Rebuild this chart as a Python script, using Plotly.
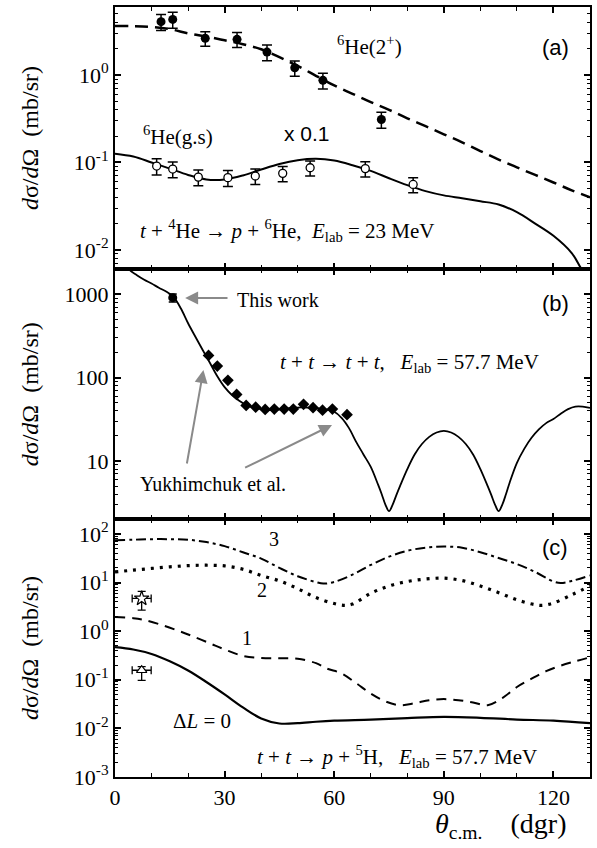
import math
import plotly.graph_objects as go

# ---------------- Panel (a): t + 4He -> p + 6He, E=23 MeV ----------------
theta_2p = [12.6, 15.8, 24.7, 33.4, 41.6, 49.2, 56.9, 72.9]
xs_2p = [4.08, 4.33, 2.63, 2.56, 1.83, 1.21, 0.87, 0.31]
err_2p = [0.85, 0.9, 0.5, 0.5, 0.37, 0.24, 0.18, 0.064]

theta_gs = [11.4, 15.8, 22.8, 30.9, 38.4, 45.9, 53.4, 68.5, 81.6]
xs_gs = [0.091, 0.084, 0.068, 0.067, 0.070, 0.075, 0.087, 0.085, 0.056]
err_gs = [0.019, 0.017, 0.014, 0.014, 0.014, 0.015, 0.017, 0.017, 0.011]

theta_2p_calc = [0, 5, 10, 15, 20, 25, 30, 35, 40, 45, 50, 55, 60, 65, 70, 75, 80,
                 85, 90, 95, 100, 105, 110, 115, 120, 125, 130]
xs_2p_calc = [3.63, 3.62, 3.55, 3.35, 3.0, 2.75, 2.5, 2.25, 1.97, 1.6, 1.27, 0.98, 0.76,
              0.61, 0.49, 0.40, 0.32, 0.26, 0.21, 0.17, 0.135, 0.108, 0.088, 0.072,
              0.059, 0.048, 0.040]

theta_gs_calc = [0, 5, 10, 15, 20, 25, 30, 35, 40, 45, 50, 55, 60, 65, 70, 75, 80, 85,
                 90, 95, 100, 105, 110, 115, 120, 125, 127.5, 130]
xs_gs_calc = [0.126, 0.117, 0.100, 0.085, 0.072, 0.064, 0.064, 0.071, 0.083, 0.096,
              0.106, 0.110, 0.105, 0.093, 0.080, 0.066, 0.055, 0.047, 0.042, 0.039,
              0.036, 0.033, 0.027, 0.020, 0.0145, 0.0092, 0.0062, 0.0042]

# ---------------- Panel (b): t + t -> t + t, E=57.7 MeV ----------------
theta_this = [15.8]
xs_this = [912]
err_this = [100]

theta_yuk = [25.6, 28.0, 30.9, 33.3, 35.9, 38.5, 41.1, 43.6, 46.3, 48.8, 51.6, 54.2,
             56.8, 59.5, 63.5]
xs_yuk = [185, 138, 93, 63, 46.5, 44.3, 41.6, 42, 42, 42, 47.9, 43.7, 40.8, 42, 36]

theta_tt_calc = [2, 3.8, 6, 8, 10, 12, 14, 16, 18, 20, 22, 24, 26, 28, 30, 32, 34, 36,
                 38, 40, 42, 45, 48, 51, 54, 57, 60, 62, 64, 66, 68, 70, 72, 73, 74, 75,
                 76, 77, 78, 80, 82, 84, 86, 88, 90, 92, 94, 96, 98, 100, 102, 103, 104,
                 105, 106, 107, 108, 110, 112, 114, 116, 118, 120, 122, 124, 126, 128, 130]
xs_tt_calc = [3000, 2000, 1700, 1500, 1350, 1200, 1080, 930, 680, 450, 310, 215, 150,
              104, 77, 62, 53, 47, 44, 42, 41, 41.5, 43, 44, 43.5, 42, 39, 33, 25, 17,
              12, 8.5, 5.2, 4.0, 3.0, 2.5, 3.0, 3.9, 5.0, 8, 12, 16, 19.5, 22, 23, 22,
              19.5, 16, 12, 8, 5.0, 3.9, 3.0, 2.5, 3.0, 4.0, 5.5, 9.5, 14, 19, 24, 28.5,
              32, 37, 42, 45, 45, 43.5]

# ---------------- Panel (c): t + t -> p + 5H, E=57.7 MeV ----------------
theta_c = [0, 5, 10, 15, 20, 25, 30, 35, 40, 45, 50, 55, 57, 60, 65, 70, 75, 80, 85,
           90, 95, 100, 105, 110, 115, 120, 122, 125, 130]
xs_L3 = [74, 76, 78, 78, 76, 68, 56, 42, 31, 20, 13.5, 10.2, 9.5, 10.3, 14.5, 23, 34,
         45, 52, 55, 52, 42, 32, 24, 16.5, 10.5, 9.8, 10.8, 14]

theta_c2 = [0, 5, 10, 15, 20, 25, 30, 35, 40, 45, 50, 55, 60, 63, 65, 70, 75, 80, 85,
            90, 95, 100, 105, 110, 115, 117, 120, 125, 130]
xs_L2 = [16.5, 18, 19.5, 21, 22.3, 22.7, 22, 18.8, 14, 10.8, 7.5, 4.9, 3.7, 3.4, 3.6,
         6.0, 8.5, 10.5, 11.8, 12.3, 11, 8.5, 6.2, 4.4, 3.5, 3.4, 3.8, 5.6, 8.5]

theta_c1 = [0, 5, 8, 12, 17, 21, 26, 30, 35, 40, 45, 50, 55, 58, 62, 66, 70, 74, 78,
            82, 86, 90, 94, 98, 102, 106, 110, 114, 118, 122, 126, 130]
xs_L1 = [1.96, 1.85, 1.7, 1.4, 1.04, 0.8, 0.56, 0.42, 0.31, 0.28, 0.276, 0.27, 0.22,
         0.17, 0.135, 0.085, 0.052, 0.036, 0.030, 0.033, 0.038, 0.040, 0.038, 0.034,
         0.030, 0.042, 0.071, 0.105, 0.15, 0.195, 0.24, 0.29]

theta_c0 = [0, 5, 10, 15, 20, 25, 30, 35, 40, 45, 50, 55, 60, 70, 80, 90, 100, 110,
            120, 130]
xs_L0 = [0.47, 0.42, 0.34, 0.24, 0.155, 0.09, 0.05, 0.027, 0.016, 0.0126, 0.0128,
         0.0137, 0.0144, 0.0152, 0.0163, 0.0172, 0.0165, 0.0152, 0.0144, 0.0128]

theta_star = [7.3]
xs_star = [4.7]
err_star_up = [1.9]
err_star_dn = [2.0]
theta_tri = [7.3]
xs_tri = [0.157]
err_tri_up = [0.03]
err_tri_dn = [0.06]
err_theta = [2.6]

# tick labels
x_tickvals = [0, 30, 60, 90, 120]
x_ticktext = ["0", "30", "60", "90", "120"]
ya_tickvals = [0.01, 0.1, 1]
ya_ticktext = ["10<sup>-2</sup>", "10<sup>-1</sup>", "10<sup>0</sup>"]
yb_tickvals = [10, 100, 1000]
yb_ticktext = ["10", "100", "1000"]
yc_tickvals = [0.001, 0.01, 0.1, 1, 10, 100]
yc_ticktext = ["10<sup>-3</sup>", "10<sup>-2</sup>", "10<sup>-1</sup>",
               "10<sup>0</sup>", "10<sup>1</sup>", "10<sup>2</sup>"]

SERIF = "Liberation Serif, Times New Roman, Times, serif"
SANS = "Liberation Sans, Arial, Helvetica, sans-serif"
NB = "\u00a0"

fig = go.Figure()

# ---- panel a traces
fig.add_trace(go.Scatter(x=theta_2p_calc, y=xs_2p_calc, mode="lines", xaxis="x", yaxis="y",
                         line=dict(color="black", width=2.5, dash="13px,7px"), line_shape="spline"))
fig.add_trace(go.Scatter(x=theta_gs_calc, y=xs_gs_calc, mode="lines", xaxis="x", yaxis="y",
                         line=dict(color="black", width=2), line_shape="spline"))
fig.add_trace(go.Scatter(x=theta_2p, y=xs_2p, mode="markers", xaxis="x", yaxis="y",
                         marker=dict(symbol="circle", size=9, color="black"),
                         error_y=dict(type="data", array=err_2p, color="black", thickness=1.5, width=5)))
fig.add_trace(go.Scatter(x=theta_gs, y=xs_gs, mode="markers", xaxis="x", yaxis="y",
                         marker=dict(symbol="circle", size=8, color="white",
                                     line=dict(color="black", width=1.3)),
                         error_y=dict(type="data", array=err_gs, color="black", thickness=1.5, width=5)))

# ---- panel b traces
fig.add_trace(go.Scatter(x=theta_tt_calc, y=xs_tt_calc, mode="lines", xaxis="x2", yaxis="y2",
                         line=dict(color="black", width=1.8), line_shape="spline"))
fig.add_trace(go.Scatter(x=theta_yuk, y=xs_yuk, mode="markers", xaxis="x2", yaxis="y2",
                         marker=dict(symbol="diamond", size=9, color="black")))
fig.add_trace(go.Scatter(x=theta_this, y=xs_this, mode="markers", xaxis="x2", yaxis="y2",
                         marker=dict(symbol="circle", size=9, color="black"),
                         error_y=dict(type="data", array=err_this, color="black", thickness=1.5, width=4)))

# ---- panel c traces
fig.add_trace(go.Scatter(x=theta_c, y=xs_L3, mode="lines", xaxis="x3", yaxis="y3",
                         line=dict(color="black", width=2, dash="10px,4px,3px,4px"), line_shape="spline"))
fig.add_trace(go.Scatter(x=theta_c2, y=xs_L2, mode="lines", xaxis="x3", yaxis="y3",
                         line=dict(color="black", width=3.2, dash="3px,6px"), line_shape="spline"))
fig.add_trace(go.Scatter(x=theta_c1, y=xs_L1, mode="lines", xaxis="x3", yaxis="y3",
                         line=dict(color="black", width=2, dash="10px,7px"), line_shape="spline"))
fig.add_trace(go.Scatter(x=theta_c0, y=xs_L0, mode="lines", xaxis="x3", yaxis="y3",
                         line=dict(color="black", width=2.2), line_shape="spline"))
fig.add_trace(go.Scatter(x=theta_star, y=xs_star, mode="markers", xaxis="x3", yaxis="y3",
                         marker=dict(symbol="star", size=11, color="white",
                                     line=dict(color="black", width=1.2)),
                         error_y=dict(type="data", symmetric=False, array=err_star_up,
                                      arrayminus=err_star_dn, color="black", thickness=1.3, width=4),
                         error_x=dict(type="data", array=err_theta, color="black", thickness=1.3, width=4)))
fig.add_trace(go.Scatter(x=theta_tri, y=xs_tri, mode="markers", xaxis="x3", yaxis="y3",
                         marker=dict(symbol="triangle-up", size=9, color="white",
                                     line=dict(color="black", width=1.2)),
                         error_y=dict(type="data", symmetric=False, array=err_tri_up,
                                      arrayminus=err_tri_dn, color="black", thickness=1.3, width=4),
                         error_x=dict(type="data", array=err_theta, color="black", thickness=1.3, width=4)))


def minor_log(lo, hi):
    vals = []
    for e in range(lo, hi + 1):
        for m in range(2, 10):
            vals.append(m * 10 ** e)
    return vals


tickfont = dict(family=SERIF, size=22, color="black")
common_x = dict(range=[0, 130], showline=True, linewidth=2, linecolor="black", mirror="ticks",
                ticks="inside", ticklen=6, tickwidth=1.5, tickcolor="black",
                tickmode="array", tickvals=x_tickvals, ticktext=x_ticktext,
                minor=dict(ticks="inside", ticklen=4, tickwidth=1.2, tickcolor="black", dtick=10, tick0=0),
                showgrid=False, zeroline=False, tickfont=tickfont, automargin=False)
common_y = dict(type="log", showline=True, linewidth=2, linecolor="black", mirror="ticks",
                ticks="inside", ticklen=6, tickwidth=1.5, tickcolor="black", tickmode="array",
                showgrid=False, zeroline=False, tickfont=tickfont, automargin=False)

dA = [0.6594, 1.0]
dB = [0.3347, 0.6594]
dC = [0.0, 0.3347]

fig.update_layout(
    template="none",
    width=597, height=848, plot_bgcolor="white", paper_bgcolor="white", showlegend=False,
    margin=dict(l=115, r=7, t=7, b=71, autoexpand=False),
    xaxis=dict(common_x, anchor="y", domain=[0, 1], showticklabels=False),
    xaxis2=dict(common_x, anchor="y2", domain=[0, 1], showticklabels=False),
    xaxis3=dict(common_x, anchor="y3", domain=[0, 1], showticklabels=True),
    yaxis=dict(common_y, anchor="x", domain=dA, range=[math.log10(0.006), math.log10(6)],
               tickvals=ya_tickvals, ticktext=ya_ticktext,
               minor=dict(ticks="inside", ticklen=3, tickwidth=1, tickcolor="black",
                          tickmode="array", tickvals=minor_log(-3, 0))),
    yaxis2=dict(common_y, anchor="x2", domain=dB, range=[math.log10(2), math.log10(2000)],
                tickvals=yb_tickvals, ticktext=yb_ticktext,
                minor=dict(ticks="inside", ticklen=3, tickwidth=1, tickcolor="black",
                           tickmode="array", tickvals=minor_log(0, 3))),
    yaxis3=dict(common_y, anchor="x3", domain=dC, range=[-3, math.log10(200)],
                tickvals=yc_tickvals, ticktext=yc_ticktext,
                minor=dict(ticks="inside", ticklen=3, tickwidth=1, tickcolor="black",
                           tickmode="array", tickvals=minor_log(-3, 2))),
)

ann = []


def txt(text, x, y, xr, yr, size=21, family=SERIF, xanchor="center"):
    ann.append(dict(text=text, x=x, y=y, xref=xr, yref=yr, showarrow=False,
                    xanchor=xanchor, yanchor="middle",
                    font=dict(family=family, size=size, color="black")))


# panel a
txt("<sup>6</sup>He(2<sup>+</sup>)", 69.6, 0.335, "x", "y")
txt("(a)", 120.5, 0.32, "x", "y", size=22, family=SANS)
txt("<sup>6</sup>He(g.s)", 17.3, -0.695, "x", "y")
txt("x 0.1", 52.5, -0.664, "x", "y", size=21, family=SANS)
txt("<i>t</i>" + NB + "+" + NB + "<sup>4</sup>He" + NB + "→" + NB + "<i>p</i>" + NB + "+" + NB +
    "<sup>6</sup>He," + NB + NB + "<i>E</i><sub>lab</sub>" + NB + "=" + NB + "23 MeV",
    6.3, -1.783, "x", "y", xanchor="left")

# panel b
txt("This work", 32.9, 2.93, "x2", "y2", size=20, xanchor="left")
txt("Yukhimchuk et al.", 6.3, 0.723, "x2", "y2", size=20, xanchor="left")
txt("<i>t</i>" + NB + "+" + NB + "<i>t</i>" + NB + "→" + NB + "<i>t</i>" + NB + "+" + NB + "<i>t</i>," +
    NB * 3 + "<i>E</i><sub>lab</sub>" + NB + "=" + NB + "57.7 MeV",
    44.7, 2.175, "x2", "y2", xanchor="left")
txt("(b)", 120.5, 2.89, "x2", "y2", size=22, family=SANS)

# panel c
txt("3", 43.4, 1.905, "x3", "y3", size=20)
txt("2", 40.2, 0.842, "x3", "y3", size=20)
txt("1", 36.1, -0.14, "x3", "y3", size=20)
txt("Δ<i>L</i>" + NB + "=" + NB + "0", 23.7, -1.854, "x3", "y3", size=21)
txt("<i>t</i>" + NB + "+" + NB + "<i>t</i>" + NB + "→" + NB + "<i>p</i>" + NB + "+" + NB +
    "<sup>5</sup>H," + NB * 3 + "<i>E</i><sub>lab</sub>" + NB + "=" + NB + "57.7 MeV",
    38.4, -2.588, "x3", "y3", xanchor="left")
txt("(c)", 120.5, 1.73, "x3", "y3", size=22, family=SANS)

# arrows in panel b
GRAY = "#8a8a8a"
for (hx, hy, tx, ty) in [(19.2, 2.956, 31.2, 2.956),
                         (24.2, 2.092, 19.6, 0.952),
                         (59.4, 1.432, 35.2, 0.912)]:
    ann.append(dict(text="", x=hx, y=hy, ax=tx, ay=ty, xref="x2", yref="y2",
                    axref="x2", ayref="y2", showarrow=True, arrowhead=2, arrowsize=1.3,
                    arrowwidth=2, arrowcolor=GRAY, standoff=0))

# axis titles
ytitle = "<i>d</i>σ/<i>d</i>Ω" + NB + NB + "(mb/sr)"
for yc in [(dA[0] + dA[1]) / 2, (dB[0] + dB[1]) / 2, (dC[0] + dC[1]) / 2]:
    ann.append(dict(text=ytitle, x=-0.179, y=yc, xref="paper", yref="paper", showarrow=False,
                    textangle=-90, xanchor="center", yanchor="middle",
                    font=dict(family=SERIF, size=24, color="black")))
ann.append(dict(text="<i>θ</i><sub>c.m.</sub>" + NB * 4 + "(dgr)", x=(433 - 115) / 475, y=-0.0377,
                xref="paper", yref="paper", showarrow=False, xanchor="left", yanchor="top",
                font=dict(family=SERIF, size=28, color="black")))

fig.update_layout(annotations=ann)
fig.write_html("out.html", config={"displayModeBar": False},
               post_script="document.body.style.margin='0';document.body.style.padding='0';")
